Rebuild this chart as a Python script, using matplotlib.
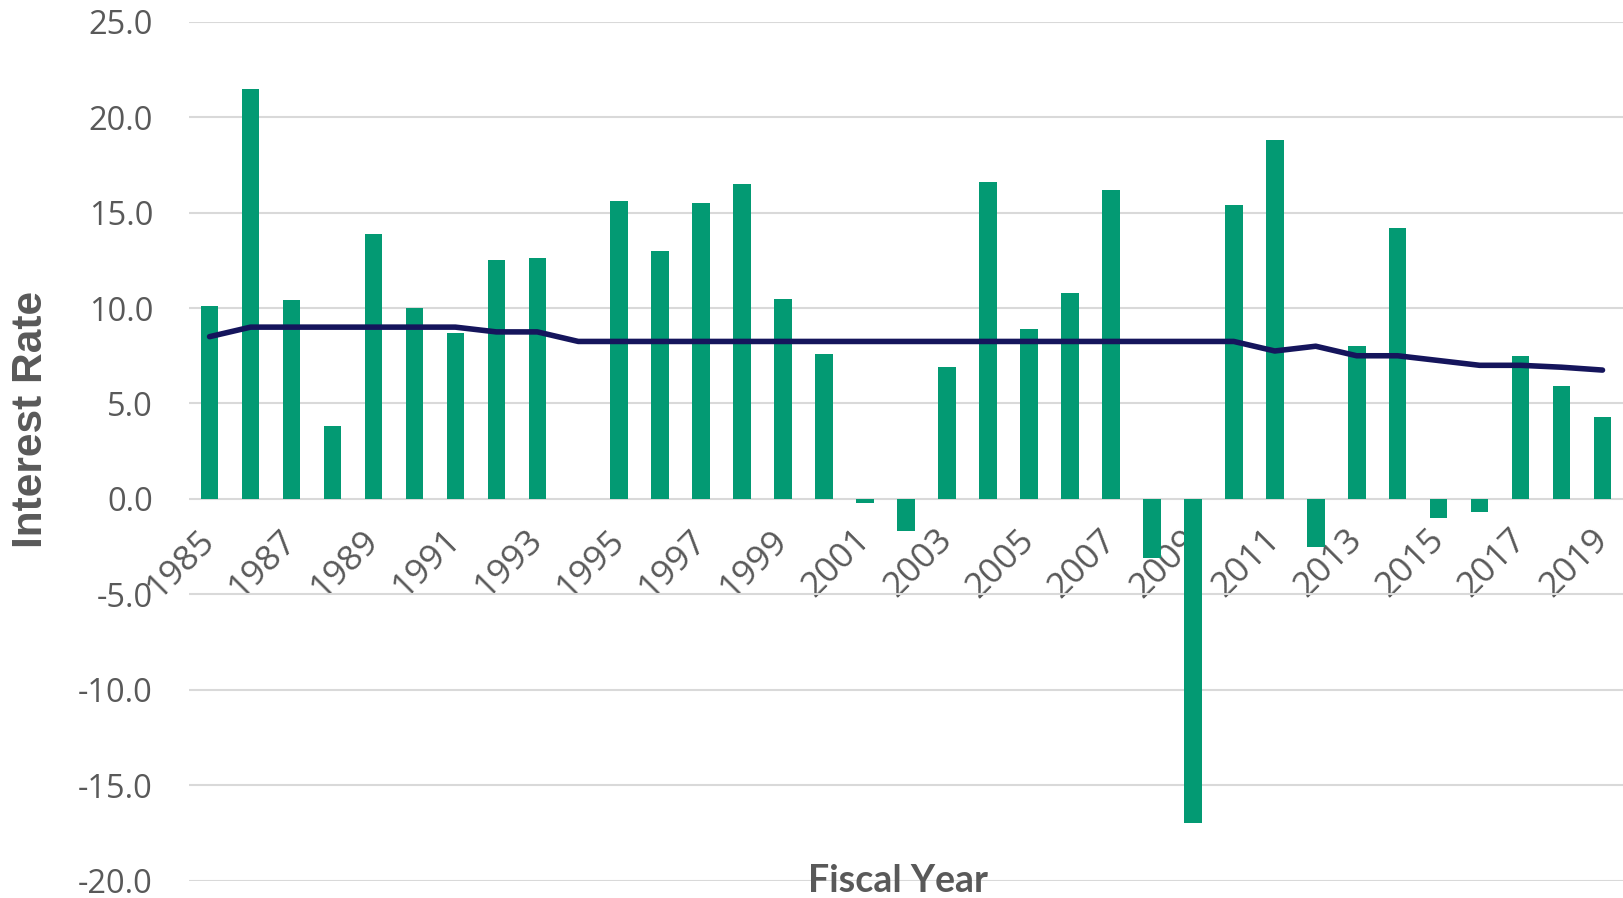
import matplotlib
matplotlib.use('Agg')
import matplotlib.pyplot as plt
import numpy as np

years = list(range(1985, 2020))
returns = [10.1, 21.5, 10.4, 3.8, 13.9, 10.0, 8.7, 12.5, 12.6, 0.0,
           15.6, 13.0, 15.5, 16.5, 10.5, 7.6, -0.2, -1.7, 6.9, 16.6,
           8.9, 10.8, 16.2, -3.1, -17.0, 15.4, 18.8, -2.5, 8.0, 14.2,
           -1.0, -0.7, 7.5, 5.9, 4.3]
assumed = [8.5, 9.0, 9.0, 9.0, 9.0, 9.0, 9.0, 8.75, 8.75, 8.25,
           8.25, 8.25, 8.25, 8.25, 8.25, 8.25, 8.25, 8.25, 8.25, 8.25,
           8.25, 8.25, 8.25, 8.25, 8.25, 8.25, 7.75, 8.0, 7.5, 7.5,
           7.25, 7.0, 7.0, 6.9, 6.75]
yticks = [-20, -15, -10, -5, 0, 5, 10, 15, 20, 25]

grey = '#595959'
fig = plt.figure(figsize=(16.23, 8.98), dpi=100)
ax = fig.add_axes([0.1165, 0.0193, 0.8835, 0.9565])

x = np.arange(len(years))
ax.bar(x, returns, width=0.43, color='#039a73', zorder=2)
ax.plot(x, assumed, color='#15155c', lw=4, solid_capstyle='round', zorder=3)

ax.set_xlim(-0.5, len(years) - 0.5)
ax.set_ylim(-20, 25)
ax.set_yticks(yticks)
ax.set_yticklabels(['%.1f' % v for v in yticks], fontsize=23.5, color=grey,
                   family='Open Sans')
ax.yaxis.grid(True, color='#d9d9d9', lw=1.5)
ax.set_axisbelow(True)
ax.tick_params(axis='y', length=0, pad=26)

ax.spines['bottom'].set_position(('data', 0))
for s in ax.spines.values():
    s.set_visible(False)
ax.set_xticks(x[::2])
ax.set_xticklabels([str(y) for y in years[::2]], rotation=45, ha='right',
                   va='center', rotation_mode='anchor', fontsize=25.5,
                   color=grey, family='Open Sans')
ax.tick_params(axis='x', length=0, pad=26)

fig.text(0.019, 0.533, 'Interest Rate', rotation=90, ha='center', va='center',
         fontsize=30.5, fontweight='bold', color=grey, family='Liberation Sans')
fig.text(0.553, 0.019, 'Fiscal Year', ha='center', va='center',
         fontsize=27, fontweight='bold', color=grey, family='Lato')

fig.savefig('out.png', dpi=100)
